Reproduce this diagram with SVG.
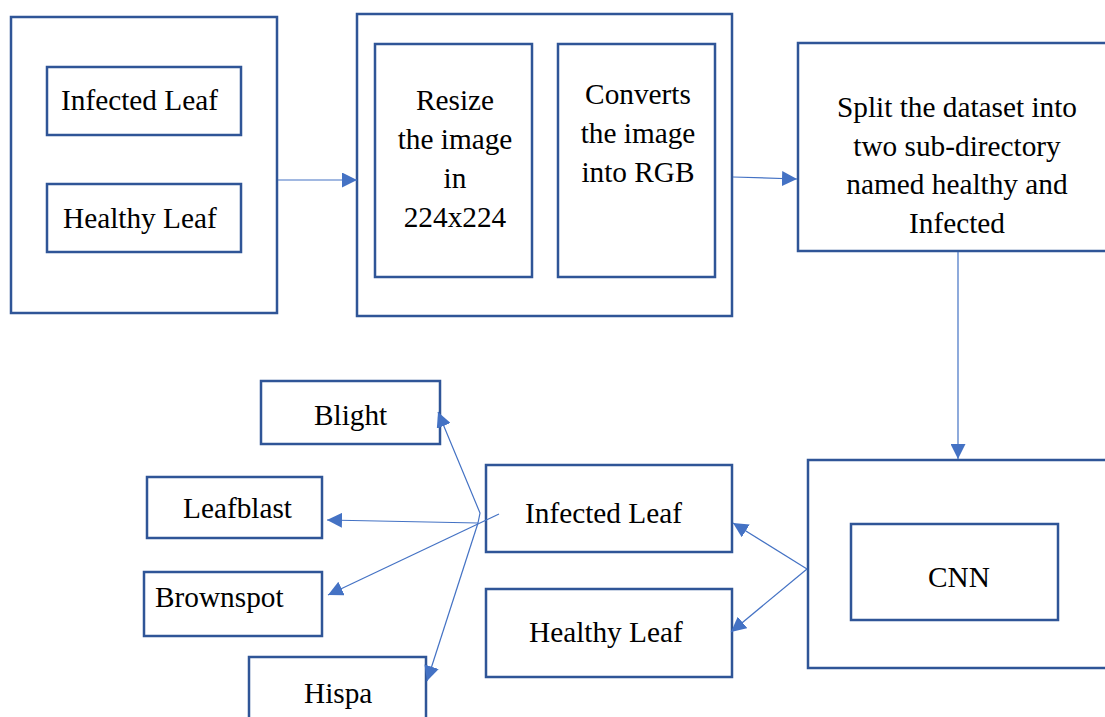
<svg xmlns="http://www.w3.org/2000/svg" width="1105" height="717" viewBox="0 0 1105 717">
<style>
.box{fill:#fff;stroke:#2F5597;stroke-width:2.5}
.t{font-family:"Liberation Serif","Times New Roman",serif;font-size:29.3px;fill:#000}
.c{text-anchor:middle}
.ln{stroke:#4472C4;stroke-width:1.2;fill:none}
</style>
<defs>
<marker id="ah" viewBox="0 0 10 10" refX="10" refY="5" markerWidth="15" markerHeight="15" markerUnits="userSpaceOnUse" orient="auto">
<path d="M0,0 L10,5 L0,10 z" fill="#4472C4"/>
</marker>
</defs>
<rect width="1105" height="717" fill="#fff"/>
<g id="input">
<rect class="box" x="11" y="17" width="266" height="296"/>
</g>
<g id="input-infected">
<rect class="box" x="47" y="67" width="194" height="68"/>
<text class="t" x="61" y="110">Infected Leaf</text>
</g>
<g id="input-healthy">
<rect class="box" x="47" y="184" width="194" height="68"/>
<text class="t" x="63" y="228">Healthy Leaf</text>
</g>
<g id="preprocess">
<rect class="box" x="357" y="14" width="375" height="302"/>
</g>
<g id="resize">
<rect class="box" x="375" y="44" width="157" height="233"/>
<text class="t c" x="455" y="110">Resize</text>
<text class="t c" x="455" y="149">the image</text>
<text class="t c" x="455" y="188">in</text>
<text class="t c" x="455" y="227">224x224</text>
</g>
<g id="convert">
<rect class="box" x="558" y="44" width="157" height="233"/>
<text class="t c" x="638" y="104">Converts</text>
<text class="t c" x="638" y="143">the image</text>
<text class="t c" x="638" y="182">into RGB</text>
</g>
<g id="split">
<rect class="box" x="798" y="43" width="320" height="208"/>
<text class="t c" x="957" y="117">Split the dataset into</text>
<text class="t c" x="957" y="156">two sub-directory</text>
<text class="t c" x="957" y="194">named healthy and</text>
<text class="t c" x="957" y="233">Infected</text>
</g>
<g id="cnn-outer">
<rect class="box" x="808" y="460" width="310" height="208"/>
</g>
<g id="cnn">
<rect class="box" x="851" y="524" width="207" height="96"/>
<text class="t c" x="959" y="587">CNN</text>
</g>
<g id="out-infected">
<rect class="box" x="486" y="465" width="246" height="87"/>
<text class="t" x="525" y="523">Infected Leaf</text>
</g>
<g id="out-healthy">
<rect class="box" x="486" y="589" width="246" height="88"/>
<text class="t" x="529" y="642">Healthy Leaf</text>
</g>
<g id="blight">
<rect class="box" x="261" y="381" width="179" height="63"/>
<text class="t" x="314" y="425">Blight</text>
</g>
<g id="leafblast">
<rect class="box" x="147" y="477" width="175" height="61"/>
<text class="t" x="183" y="518">Leafblast</text>
</g>
<g id="brownspot">
<rect class="box" x="144" y="572" width="178" height="64"/>
<text class="t" x="155" y="607">Brownspot</text>
</g>
<g id="hispa">
<rect class="box" x="249" y="657" width="177" height="70"/>
<text class="t" x="304" y="703">Hispa</text>
</g>
<g id="connectors">
<line class="ln" x1="278" y1="180" x2="357" y2="180" marker-end="url(#ah)"/>
<line class="ln" x1="733" y1="177" x2="797" y2="179" marker-end="url(#ah)"/>
<line class="ln" x1="958" y1="252" x2="958" y2="459" marker-end="url(#ah)"/>
<line class="ln" x1="807" y1="569" x2="733" y2="523" marker-end="url(#ah)"/>
<line class="ln" x1="807" y1="569" x2="731" y2="632" marker-end="url(#ah)"/>
<polyline class="ln" points="478,523 480,513 438,412" marker-end="url(#ah)"/>
<line class="ln" x1="478" y1="523" x2="327" y2="520" marker-end="url(#ah)"/>
<line class="ln" x1="499" y1="514" x2="328" y2="595" marker-end="url(#ah)"/>
<line class="ln" x1="478" y1="523" x2="427" y2="681" marker-end="url(#ah)"/>
</g>
</svg>
